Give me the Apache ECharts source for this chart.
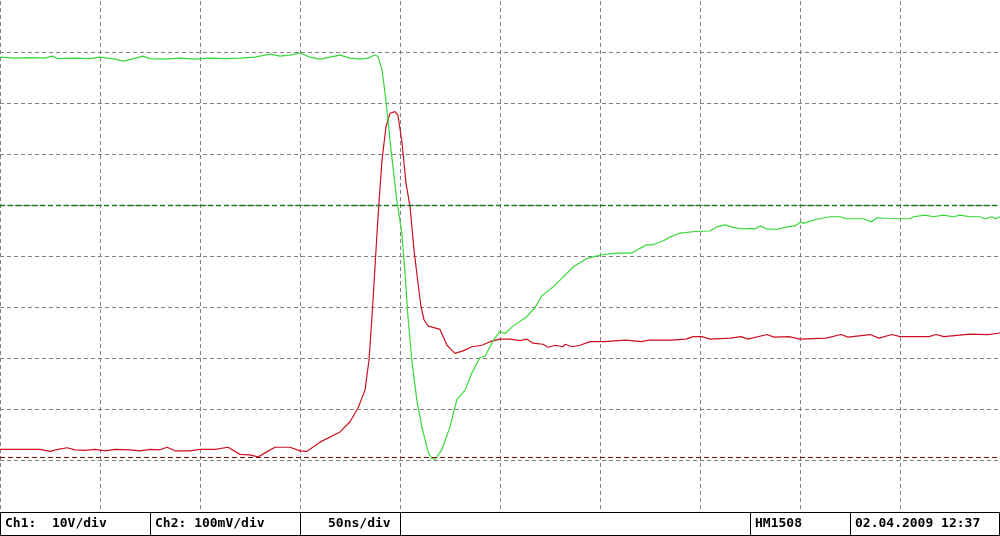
<!DOCTYPE html>
<html>
<head>
<meta charset="utf-8">
<script src="https://cdn.jsdelivr.net/npm/echarts/dist/echarts.min.js"></script>
<style>
html,body{margin:0;padding:0;background:#fff;}
#chart{width:1000px;height:536px;}
</style>
</head>
<body>
<div id="chart"></div>
<script>
// Time axis: 0..500 ns (50 ns/div), vertical axis in screen divisions (-5..5)
const timeTicks = [0, 50, 100, 150, 200, 250, 300, 350, 400, 450, 500];
const divTicks = [-5, -4, -3, -2, -1, 0, 1, 2, 3, 4, 5];

// Ch1 (green) trace: [time ns, divisions]
const ch1Trace = [[0,3.90],[7.5,3.88],[15,3.89],[22.5,3.88],[26,3.92],[29,3.87],[37.5,3.88],[45,3.87],[50,3.90],[57.5,3.86],[61.5,3.82],[66,3.86],[71.5,3.92],[75,3.87],[82.5,3.86],[90,3.88],[97.5,3.86],[105,3.88],[112.5,3.87],[120,3.88],[127.5,3.90],[135,3.96],[140,3.92],[145,3.94],[150,3.98],[155,3.90],[160,3.86],[165,3.90],[170,3.94],[175,3.88],[180,3.86],[184,3.88],[187.5,3.94],[189,3.91],[191,3.65],[192.5,3.20],[194,2.67],[195.5,2.08],[198.4,1.10],[200.9,0.45],[202.5,-0.33],[204,-1.20],[205.9,-2.04],[208.4,-2.82],[210.9,-3.35],[214.2,-3.86],[216,-3.97],[217.5,-3.99],[220.9,-3.80],[225,-3.35],[228.4,-2.82],[232.5,-2.63],[235.9,-2.30],[240,-1.99],[242.5,-1.97],[246.7,-1.65],[250,-1.48],[252.5,-1.52],[256.7,-1.37],[263.4,-1.19],[267.5,-1.01],[270.9,-0.78],[276.7,-0.60],[281.7,-0.41],[286.7,-0.21],[293.4,-0.05],[300,0.02],[306.7,0.05],[315.9,0.06],[320,0.15],[323.4,0.22],[326.5,0.22],[331.7,0.30],[335,0.37],[340,0.45],[347.5,0.48],[355,0.49],[358.4,0.57],[362.5,0.61],[366.7,0.56],[371.7,0.53],[375,0.54],[377.5,0.53],[380,0.59],[383.4,0.53],[388.4,0.52],[393.4,0.57],[397.5,0.59],[400.4,0.67],[401.7,0.64],[408.4,0.72],[415,0.77],[420,0.77],[423.4,0.73],[431.7,0.73],[435.9,0.67],[438.4,0.75],[443.4,0.74],[450,0.73],[455,0.73],[456.7,0.77],[462.5,0.80],[466.7,0.77],[471.7,0.80],[476.7,0.77],[480,0.80],[485,0.77],[490,0.77],[492.5,0.73],[495.9,0.77],[497.5,0.73],[500,0.77]];

// Ch2 (red) trace: [time ns, divisions]
const ch2Trace = [[0,-3.79],[10,-3.79],[20,-3.79],[25,-3.83],[29,-3.79],[33.5,-3.76],[37.5,-3.80],[42.5,-3.81],[47.5,-3.79],[52.5,-3.82],[57.5,-3.79],[65,-3.80],[70,-3.82],[75,-3.79],[80,-3.80],[83.5,-3.75],[87.5,-3.82],[95,-3.82],[100,-3.79],[107.5,-3.79],[114,-3.75],[120,-3.89],[125,-3.90],[129,-3.94],[132.5,-3.86],[137.5,-3.75],[145,-3.75],[150,-3.82],[153.5,-3.83],[160,-3.65],[170,-3.45],[175,-3.25],[179,-2.98],[182.5,-2.63],[184.5,-2.04],[186,-1.19],[187.5,-0.21],[189,0.77],[191,1.88],[193,2.54],[195,2.80],[197.5,2.83],[199,2.76],[201,2.22],[203,1.43],[205,0.97],[207,0.12],[209,-0.53],[210.5,-0.99],[212,-1.25],[214,-1.37],[220,-1.44],[223.5,-1.75],[227.5,-1.91],[231.5,-1.86],[236,-1.78],[241,-1.75],[245,-1.68],[250,-1.63],[255,-1.63],[260,-1.66],[263.5,-1.63],[266.5,-1.71],[271.5,-1.73],[274,-1.79],[277.5,-1.75],[281.5,-1.78],[282.5,-1.73],[286,-1.78],[290,-1.75],[295,-1.68],[302,-1.68],[313,-1.65],[320.5,-1.68],[324.5,-1.65],[335.5,-1.65],[343,-1.63],[346.5,-1.58],[351,-1.58],[355,-1.63],[365,-1.61],[370.5,-1.58],[374,-1.63],[383.5,-1.54],[387,-1.59],[394.5,-1.58],[400,-1.63],[413,-1.61],[420.5,-1.54],[424,-1.59],[435,-1.54],[439.5,-1.61],[446,-1.54],[450,-1.58],[464.5,-1.58],[468,-1.54],[472,-1.58],[485,-1.53],[494,-1.54],[500,-1.51]];

// Reference level markers (divisions)
const ch1Marker = 1.0;
const ch2Marker = -3.95;

// Status bar texts
const statusTexts = ['Ch1:  10V/div', 'Ch2: 100mV/div', '50ns/div', 'HM1508', '02.04.2009 12:37'];
const statusTextX = [5, 155, 328, 755, 855];
const statusDividers = [150.5, 300.5, 400.5, 750.5, 850.5];

const chart = echarts.init(document.getElementById('chart'), null, {renderer: 'canvas'});

const gridColor = '#808080';
const ySplitColors = divTicks.map((v, i) => (i === 0 || i === divTicks.length - 1) ? 'rgba(0,0,0,0)' : gridColor);

const font = {fontFamily: '"DejaVu Sans Mono", "Liberation Mono", monospace', fontWeight: 'bold', fontSize: 13};

const graphicEls = [
  {type: 'rect', z: 100, silent: true, shape: {x: 0, y: 511, width: 1000, height: 25}, style: {fill: '#fff'}},
  {type: 'rect', z: 101, silent: true, shape: {x: 0.5, y: 512.5, width: 999, height: 23}, style: {fill: 'none', stroke: '#000', lineWidth: 1}}
];
statusDividers.forEach(x => graphicEls.push({type: 'line', z: 101, silent: true, shape: {x1: x, y1: 512.5, x2: x, y2: 535.5}, style: {stroke: '#000', lineWidth: 1}}));
statusTexts.forEach((t, i) => graphicEls.push({type: 'text', z: 102, silent: true, x: statusTextX[i], y: 524, style: Object.assign({text: t, fill: '#000', verticalAlign: 'middle', align: 'left'}, font)}));

chart.setOption({
  backgroundColor: '#fff',
  animation: false,
  grid: {left: 0, right: 0, top: 1, bottom: 25, containLabel: false},
  xAxis: {
    type: 'value', min: timeTicks[0], max: timeTicks[timeTicks.length - 1], interval: 50,
    axisLine: {show: false}, axisTick: {show: false}, axisLabel: {show: false},
    splitLine: {show: true, lineStyle: {color: gridColor, type: [4, 3], width: 1}}
  },
  yAxis: {
    type: 'value', min: divTicks[0], max: divTicks[divTicks.length - 1], interval: 1,
    axisLine: {show: false}, axisTick: {show: false}, axisLabel: {show: false},
    splitLine: {show: true, lineStyle: {color: ySplitColors, type: [4, 3], width: 1}}
  },
  series: [
    {
      name: 'Ch2', type: 'line', data: ch2Trace, showSymbol: false, symbol: 'none',
      lineStyle: {color: '#cc1020', width: 1.2}, z: 3,
      markLine: {
        silent: true, symbol: 'none', label: {show: false},
        data: [
          {yAxis: ch1Marker, lineStyle: {color: '#1f7a1f', type: [5, 3], width: 1.4}},
          {yAxis: ch2Marker, lineStyle: {color: '#801010', type: [5, 3], width: 1}}
        ]
      }
    },
    {
      name: 'Ch1', type: 'line', data: ch1Trace, showSymbol: false, symbol: 'none',
      lineStyle: {color: '#38d838', width: 1.2}, z: 4
    }
  ],
  graphic: {elements: graphicEls}
});
</script>
</body>
</html>
